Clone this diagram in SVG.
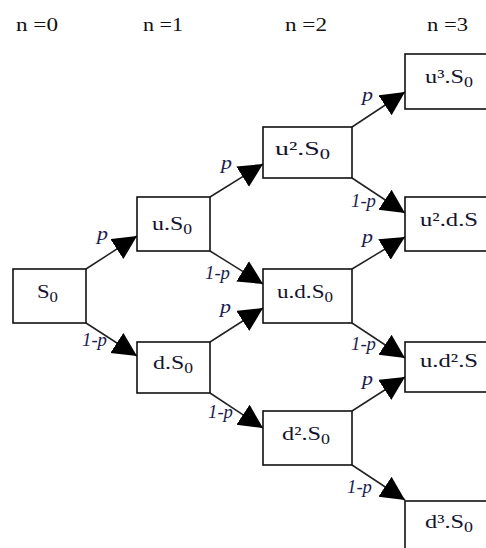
<svg xmlns="http://www.w3.org/2000/svg" width="486" height="548" viewBox="0 0 486 548">
<style>
.box{fill:#fff;stroke:#111;stroke-width:1.6}
.lbl{font-family:"Liberation Serif","Times New Roman",serif;font-size:19px;fill:#14142e}
.hdr{font-family:"Liberation Serif","Times New Roman",serif;font-size:19px;fill:#111}
.pl{font-family:"Liberation Serif","Times New Roman",serif;font-size:18px;font-style:italic;fill:#1c1c50}
.edge{stroke:#222;stroke-width:1.5;fill:none;marker-end:url(#ah)}
</style>
<defs>
<marker id="ah" markerUnits="userSpaceOnUse" markerWidth="26" markerHeight="26" refX="24" refY="12" orient="auto">
<path d="M0,0 L24,12 L0,24 Z" fill="#000"/>
</marker>
</defs>
<g id="headers">
<text class="hdr" x="16" y="31" textLength="42" lengthAdjust="spacingAndGlyphs">n =0</text>
<text class="hdr" x="143" y="31" textLength="40" lengthAdjust="spacingAndGlyphs">n =1</text>
<text class="hdr" x="285" y="31" textLength="42" lengthAdjust="spacingAndGlyphs">n =2</text>
<text class="hdr" x="427" y="31" textLength="41" lengthAdjust="spacingAndGlyphs">n =3</text>
</g>
<g id="connectors">
<line class="edge" x1="86" y1="269" x2="137" y2="236"/>
<line class="edge" x1="86" y1="323" x2="137" y2="356"/>
<line class="edge" x1="210" y1="197" x2="263" y2="164"/>
<line class="edge" x1="210" y1="251" x2="263" y2="284"/>
<line class="edge" x1="210" y1="342" x2="263" y2="308"/>
<line class="edge" x1="210" y1="393" x2="263" y2="428"/>
<line class="edge" x1="352" y1="127" x2="405" y2="92"/>
<line class="edge" x1="352" y1="178" x2="405" y2="213"/>
<line class="edge" x1="352" y1="269" x2="405" y2="237"/>
<line class="edge" x1="352" y1="323" x2="405" y2="358"/>
<line class="edge" x1="352" y1="411" x2="405" y2="377"/>
<line class="edge" x1="352" y1="465" x2="405" y2="500"/>
<text class="pl" x="97" y="240" textLength="11" lengthAdjust="spacingAndGlyphs">p</text>
<text class="pl" x="82" y="346" textLength="25" lengthAdjust="spacingAndGlyphs">1-p</text>
<text class="pl" x="221" y="169" textLength="11" lengthAdjust="spacingAndGlyphs">p</text>
<text class="pl" x="205" y="279" textLength="25" lengthAdjust="spacingAndGlyphs">1-p</text>
<text class="pl" x="220" y="313" textLength="11" lengthAdjust="spacingAndGlyphs">p</text>
<text class="pl" x="208" y="418" textLength="25" lengthAdjust="spacingAndGlyphs">1-p</text>
<text class="pl" x="362" y="101" textLength="11" lengthAdjust="spacingAndGlyphs">p</text>
<text class="pl" x="351" y="207" textLength="25" lengthAdjust="spacingAndGlyphs">1-p</text>
<text class="pl" x="362" y="243" textLength="11" lengthAdjust="spacingAndGlyphs">p</text>
<text class="pl" x="351" y="350" textLength="25" lengthAdjust="spacingAndGlyphs">1-p</text>
<text class="pl" x="362" y="385" textLength="11" lengthAdjust="spacingAndGlyphs">p</text>
<text class="pl" x="347" y="493" textLength="25" lengthAdjust="spacingAndGlyphs">1-p</text>
</g>
<g id="S0"><rect class="box" x="13" y="269" width="73" height="54"/>
<text class="lbl" x="37" y="298" textLength="21" lengthAdjust="spacingAndGlyphs">S<tspan font-size="14" dy="4">0</tspan></text></g>
<g id="uS0"><rect class="box" x="137" y="197" width="73" height="54"/>
<text class="lbl" x="152" y="230" textLength="40" lengthAdjust="spacingAndGlyphs">u.S<tspan font-size="14" dy="4">0</tspan></text></g>
<g id="dS0"><rect class="box" x="137" y="342" width="73" height="51"/>
<text class="lbl" x="153" y="369" textLength="40" lengthAdjust="spacingAndGlyphs">d.S<tspan font-size="14" dy="4">0</tspan></text></g>
<g id="u2S0"><rect class="box" x="263" y="127" width="89" height="51"/>
<text class="lbl" x="275" y="155" textLength="55" lengthAdjust="spacingAndGlyphs">u².S<tspan font-size="14" dy="4">0</tspan></text></g>
<g id="udS0"><rect class="box" x="263" y="269" width="89" height="54"/>
<text class="lbl" x="277" y="298" textLength="56" lengthAdjust="spacingAndGlyphs">u.d.S<tspan font-size="14" dy="4">0</tspan></text></g>
<g id="d2S0"><rect class="box" x="263" y="411" width="89" height="54"/>
<text class="lbl" x="282" y="440" textLength="48" lengthAdjust="spacingAndGlyphs">d².S<tspan font-size="14" dy="4">0</tspan></text></g>
<g id="u3S0"><rect class="box" x="405" y="54" width="90" height="55"/>
<text class="lbl" x="425" y="83" textLength="48" lengthAdjust="spacingAndGlyphs">u³.S<tspan font-size="14" dy="4">0</tspan></text></g>
<g id="u2dS"><rect class="box" x="405" y="197" width="90" height="54"/>
<text class="lbl" x="420" y="226" textLength="58" lengthAdjust="spacingAndGlyphs">u².d.S</text></g>
<g id="ud2S"><rect class="box" x="405" y="342" width="90" height="50"/>
<text class="lbl" x="420" y="367" textLength="58" lengthAdjust="spacingAndGlyphs">u.d².S</text></g>
<g id="d3S0"><rect class="box" x="405" y="501" width="90" height="60"/>
<text class="lbl" x="425" y="528" textLength="48" lengthAdjust="spacingAndGlyphs">d³.S<tspan font-size="14" dy="4">0</tspan></text></g>
</svg>
